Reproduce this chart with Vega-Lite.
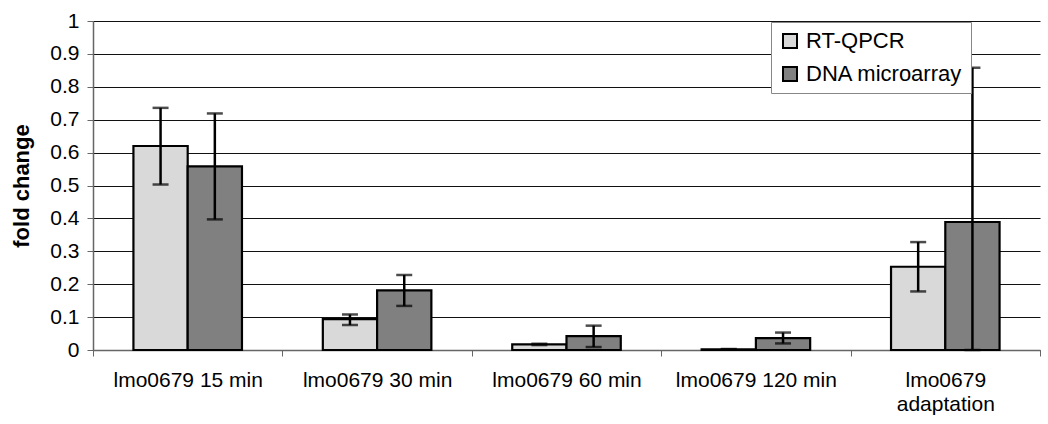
{
  "$schema": "https://vega.github.io/schema/vega-lite/v6.json",
  "width": 947,
  "height": 329,
  "autosize": "none",
  "padding": {"left": 93, "top": 21, "right": 8, "bottom": 74},
  "background": "white",
  "config": {
    "view": {"stroke": null},
    "font": "Liberation Sans",
    "axisY": {
      "title": "fold change",
      "titleFontSize": 22,
      "titleFontWeight": "bold",
      "titleColor": "black",
      "titlePadding": 16,
      "labelOverlap": false,
      "labelFlush": false,
      "format": "~g",
      "labelFontSize": 21,
      "labelColor": "black",
      "labelPadding": 8,
      "tickSize": 6,
      "tickColor": "#666",
      "domainColor": "#666",
      "domainWidth": 1.5,
      "grid": true,
      "gridColor": "#111",
      "gridWidth": 1.2
    }
  },
  "data": {
    "values": [
      {"cat": "lmo0679 15 min", "series": "RT-QPCR", "value": 0.62, "lo": 0.503, "hi": 0.736},
      {"cat": "lmo0679 15 min", "series": "DNA microarray", "value": 0.558, "lo": 0.397, "hi": 0.719},
      {"cat": "lmo0679 30 min", "series": "RT-QPCR", "value": 0.094, "lo": 0.076, "hi": 0.108},
      {"cat": "lmo0679 30 min", "series": "DNA microarray", "value": 0.181, "lo": 0.134, "hi": 0.228},
      {"cat": "lmo0679 60 min", "series": "RT-QPCR", "value": 0.017, "lo": 0.015, "hi": 0.019},
      {"cat": "lmo0679 60 min", "series": "DNA microarray", "value": 0.042, "lo": 0.009, "hi": 0.074},
      {"cat": "lmo0679 120 min", "series": "RT-QPCR", "value": 0.002, "lo": 0.001, "hi": 0.003},
      {"cat": "lmo0679 120 min", "series": "DNA microarray", "value": 0.036, "lo": 0.02, "hi": 0.053},
      {"cat": "lmo0679 adaptation", "series": "RT-QPCR", "value": 0.253, "lo": 0.178, "hi": 0.328},
      {"cat": "lmo0679 adaptation", "series": "DNA microarray", "value": 0.389, "lo": 0.0, "hi": 0.858}
    ]
  },
  "encoding": {
    "x": {
      "field": "cat",
      "type": "nominal",
      "sort": null,
      "scale": {"paddingInner": 0, "paddingOuter": 0},
      "axis": {
        "title": null,
        "labelAngle": 0,
        "labelFontSize": 21,
        "labelColor": "black",
        "labelPadding": 13,
        "labelBaseline": "top",
        "labelLineHeight": 24,
        "tickBand": "extent",
        "tickSize": 6,
        "tickColor": "#666",
        "domainColor": "#666",
        "domainWidth": 1.5,
        "labelExpr": "datum.label == 'lmo0679 adaptation' ? ['lmo0679', 'adaptation'] : datum.label"
      }
    },
    "xOffset": {
      "field": "series",
      "type": "nominal",
      "sort": ["RT-QPCR", "DNA microarray"],
      "scale": {"paddingInner": 0, "paddingOuter": 0.745}
    }
  },
  "layer": [
    {
      "mark": {"type": "bar", "stroke": "black", "strokeWidth": 2.2},
      "encoding": {
        "y": {
          "field": "value",
          "type": "quantitative",
          "title": "fold change",
          "scale": {"domain": [0, 1], "nice": false},
          "axis": {"values": [0, 0.1, 0.2, 0.3, 0.4, 0.5, 0.6, 0.7, 0.8, 0.9, 1]}
        },
        "fill": {
          "field": "series",
          "type": "nominal",
          "sort": ["RT-QPCR", "DNA microarray"],
          "scale": {"domain": ["RT-QPCR", "DNA microarray"], "range": ["#d9d9d9", "#808080"]},
          "legend": {
            "title": null,
            "orient": "none",
            "legendX": 678,
            "legendY": 1,
            "direction": "vertical",
            "symbolType": "square",
            "symbolSize": 196,
            "symbolStrokeColor": "black",
            "symbolStrokeWidth": 2,
            "symbolOpacity": 1,
            "labelFontSize": 22,
            "labelColor": "black",
            "labelOffset": 5,
            "rowPadding": 11,
            "padding": 8,
            "strokeColor": "#888",
            "fillColor": "white",
            "labelLimit": 300
          }
        }
      }
    },
    {
      "mark": {"type": "rule", "color": "black", "strokeWidth": 2.5},
      "encoding": {
        "y": {"field": "lo", "type": "quantitative", "title": "fold change", "axis": {"values": [0, 0.1, 0.2, 0.3, 0.4, 0.5, 0.6, 0.7, 0.8, 0.9, 1]}},
        "y2": {"field": "hi"}
      }
    },
    {
      "mark": {"type": "tick", "color": "black", "thickness": 2.5, "size": 16},
      "encoding": {
        "y": {"field": "lo", "type": "quantitative", "title": "fold change", "axis": {"values": [0, 0.1, 0.2, 0.3, 0.4, 0.5, 0.6, 0.7, 0.8, 0.9, 1]}}
      }
    },
    {
      "mark": {"type": "tick", "color": "black", "thickness": 2.5, "size": 16},
      "encoding": {
        "y": {"field": "hi", "type": "quantitative", "title": "fold change", "axis": {"values": [0, 0.1, 0.2, 0.3, 0.4, 0.5, 0.6, 0.7, 0.8, 0.9, 1]}}
      }
    }
  ]
}
